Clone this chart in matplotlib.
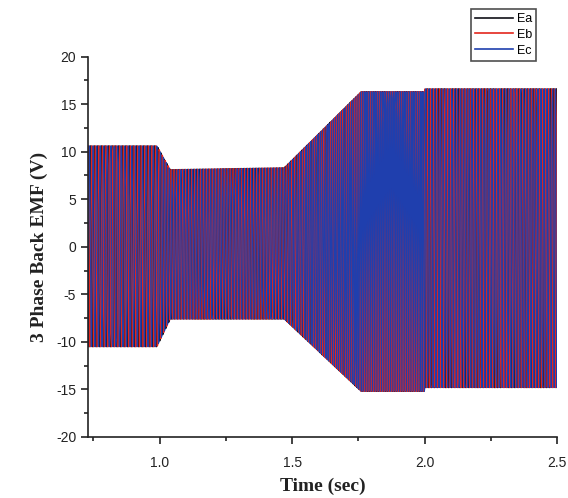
import numpy as np
import matplotlib
matplotlib.use('Agg')
import matplotlib.pyplot as plt
from matplotlib.ticker import MultipleLocator

plt.rcParams['axes.unicode_minus'] = False

# envelope breakpoints of the back EMF (time in s, peak values in V)
env_time = [0.73, 0.99, 1.04, 1.47, 1.76, 2.00, 2.00, 2.50]
env_upper = [10.6, 10.6, 8.1, 8.3, 16.3, 16.3, 16.6, 16.6]
env_lower = [-10.5, -10.5, -7.6, -7.6, -15.2, -15.2, -14.8, -14.8]

# electrical frequency along the run (Hz)
freq_time = [0.73, 1.00, 1.01, 1.47, 1.77, 2.00, 2.00, 2.50]
freq_hz = [74.9, 74.9, 89.8, 89.8, 147.6, 147.6, 92.2, 92.2]

# one electrical cycle of the trapezoidal back EMF (deg -> per unit)
shape_deg = [0, 30, 150, 210, 330, 360]
shape_pu = [0, 1, 1, -1, -1, 0]

phase_names = ['Ea', 'Eb', 'Ec']
phase_colors = ['#101018', '#e3261d', '#1f3fae']
phase_widths = [0.9, 0.9, 0.7]
phase_shift = [120, 0, -120]

DT = 0.00225  # logged sample step (s)


def build_waves():
    t = np.arange(env_time[0], env_time[-1] + DT / 2, DT)
    upper = np.interp(t, env_time, env_upper)
    lower = np.interp(t, env_time, env_lower)
    mid = (upper + lower) / 2
    half = (upper - lower) / 2
    f = np.interp(t, freq_time, freq_hz)
    theta = 360 * np.cumsum(f) * DT
    waves = [mid + half * np.interp((theta + s) % 360, shape_deg, shape_pu)
             for s in phase_shift]
    return t, waves


def main():
    t, waves = build_waves()
    fig = plt.figure(figsize=(5.68, 4.98), dpi=100)
    ax = fig.add_axes([0.155, 0.1225, 0.826, 0.764])
    for w, name, c, lw in zip(waves, phase_names, phase_colors, phase_widths):
        ax.plot(t, w, color=c, lw=lw, label=name)

    ax.set_xlim(0.73, 2.5)
    ax.set_ylim(-20, 20)
    ax.set_xticks([1.0, 1.5, 2.0, 2.5])
    ax.xaxis.set_minor_locator(MultipleLocator(0.25))
    ax.yaxis.set_major_locator(MultipleLocator(5))
    ax.yaxis.set_minor_locator(MultipleLocator(2.5))
    ax.tick_params(which='both', direction='out', width=1.2, color='#222')
    ax.tick_params(which='major', length=5, labelsize=10, labelcolor='#222')
    ax.tick_params(axis='x', which='major', pad=9)
    ax.tick_params(which='minor', length=3)
    for side in ['top', 'right']:
        ax.spines[side].set_visible(False)
    for side in ['left', 'bottom']:
        ax.spines[side].set_linewidth(1.2)
        ax.spines[side].set_color('#222')
    for lab in ax.get_xticklabels() + ax.get_yticklabels():
        lab.set_family('Liberation Sans')

    serif = dict(family='Liberation Serif', weight='bold', size=14,
                 color='#222')
    ax.set_xlabel('Time (sec)', **serif, labelpad=5)
    ax.set_ylabel('3 Phase Back EMF (V)', **serif, labelpad=6)

    leg = fig.legend(loc='upper right', bbox_to_anchor=(0.955, 0.995),
                     prop={'family': 'Liberation Sans', 'size': 9},
                     frameon=True, fancybox=False, edgecolor='#222',
                     handlelength=3.0, borderpad=0.35, labelspacing=0.3,
                     handletextpad=0.3)
    leg.get_frame().set_linewidth(1.2)
    for h in leg.get_lines():
        h.set_linewidth(1.2)

    fig.savefig('out.png', dpi=100)


if __name__ == '__main__':
    main()
